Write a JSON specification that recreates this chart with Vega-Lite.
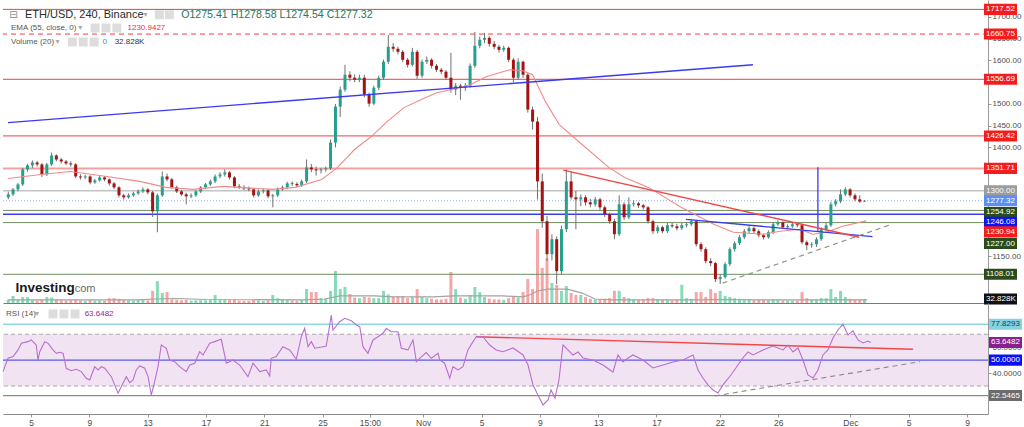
{
"$schema": "https://vega.github.io/schema/vega-lite/v6.json",
"padding": 0,
"spacing": 0,
"bounds": "flush",
"background": "white",
"config": {"view": {"stroke": null}, "font": "Liberation Sans", "axis": {"labelFont": "Liberation Sans"}},
"resolve": {"scale": {"stroke": "independent", "fill": "independent", "strokeDash": "independent", "color": "independent"}},
"datasets": {
"candles": [
{"d":2.1,"o":1285,"h":1298,"l":1280.5,"c":1292,"v":28},
{"d":2.43,"o":1292,"h":1306.5,"l":1288,"c":1303.4,"v":58},
{"d":2.77,"o":1303.4,"h":1318,"l":1299,"c":1314.9,"v":30},
{"d":3.1,"o":1314.9,"h":1353,"l":1311,"c":1349.3,"v":50},
{"d":3.43,"o":1349.3,"h":1362.5,"l":1344,"c":1358.5,"v":48},
{"d":3.77,"o":1358.5,"h":1370,"l":1352,"c":1365.3,"v":26},
{"d":4.1,"o":1365.3,"h":1369,"l":1356,"c":1360.8,"v":22},
{"d":4.43,"o":1360.8,"h":1364,"l":1332,"c":1337.8,"v":30},
{"d":4.77,"o":1337.8,"h":1364.5,"l":1334,"c":1360.8,"v":50},
{"d":5.1,"o":1360.8,"h":1388,"l":1357,"c":1381.4,"v":45},
{"d":5.43,"o":1381.4,"h":1384,"l":1368,"c":1372.2,"v":28},
{"d":5.77,"o":1372.2,"h":1376,"l":1363,"c":1367.6,"v":24},
{"d":6.1,"o":1367.6,"h":1371,"l":1359,"c":1363.1,"v":20},
{"d":6.43,"o":1363.1,"h":1368,"l":1356,"c":1360.8,"v":22},
{"d":6.77,"o":1360.8,"h":1364,"l":1329,"c":1333.2,"v":30},
{"d":7.1,"o":1333.2,"h":1338,"l":1326,"c":1330.9,"v":22},
{"d":7.43,"o":1330.9,"h":1337,"l":1327,"c":1333.2,"v":18},
{"d":7.77,"o":1333.2,"h":1336,"l":1315,"c":1319.5,"v":24},
{"d":8.1,"o":1319.5,"h":1328,"l":1316,"c":1324.1,"v":20},
{"d":8.43,"o":1324.1,"h":1335,"l":1321,"c":1330.9,"v":22},
{"d":8.77,"o":1330.9,"h":1334,"l":1322,"c":1326.4,"v":18},
{"d":9.1,"o":1326.4,"h":1329,"l":1312,"c":1317.2,"v":40},
{"d":9.43,"o":1317.2,"h":1320,"l":1304,"c":1308,"v":40},
{"d":9.77,"o":1308,"h":1311,"l":1285,"c":1289.7,"v":35},
{"d":10.1,"o":1289.7,"h":1293,"l":1280,"c":1285.1,"v":26},
{"d":10.43,"o":1285.1,"h":1294,"l":1282,"c":1289.7,"v":22},
{"d":10.77,"o":1289.7,"h":1298,"l":1286,"c":1294.2,"v":20},
{"d":11.1,"o":1294.2,"h":1303,"l":1291,"c":1298.8,"v":24},
{"d":11.43,"o":1298.8,"h":1308,"l":1295,"c":1303.4,"v":26},
{"d":11.77,"o":1303.4,"h":1306,"l":1292,"c":1296.5,"v":22},
{"d":12.1,"o":1296.5,"h":1300,"l":1240,"c":1253,"v":100},
{"d":12.43,"o":1253,"h":1294,"l":1204.8,"c":1289.7,"v":180},
{"d":12.77,"o":1289.7,"h":1344.7,"l":1286,"c":1333.2,"v":82},
{"d":13.1,"o":1333.2,"h":1340,"l":1322,"c":1326.4,"v":90},
{"d":13.43,"o":1326.4,"h":1330,"l":1305,"c":1308,"v":30},
{"d":13.77,"o":1308,"h":1312,"l":1295,"c":1298.8,"v":25},
{"d":14.1,"o":1298.8,"h":1302,"l":1288,"c":1292,"v":22},
{"d":14.43,"o":1292,"h":1296,"l":1269,"c":1287.4,"v":26},
{"d":14.77,"o":1287.4,"h":1294,"l":1283,"c":1289.7,"v":20},
{"d":15.1,"o":1289.7,"h":1302,"l":1286,"c":1298.8,"v":22},
{"d":15.43,"o":1298.8,"h":1311,"l":1295,"c":1308,"v":24},
{"d":15.77,"o":1308,"h":1318,"l":1304,"c":1314.9,"v":22},
{"d":16.1,"o":1314.9,"h":1326,"l":1311,"c":1321.8,"v":26},
{"d":16.43,"o":1321.8,"h":1338,"l":1318,"c":1333.2,"v":66},
{"d":16.77,"o":1333.2,"h":1343,"l":1329,"c":1337.8,"v":30},
{"d":17.1,"o":1337.8,"h":1349.3,"l":1333,"c":1342.4,"v":28},
{"d":17.43,"o":1342.4,"h":1346,"l":1326,"c":1330.9,"v":26},
{"d":17.77,"o":1330.9,"h":1334,"l":1306,"c":1310.3,"v":30},
{"d":18.1,"o":1310.3,"h":1316,"l":1304,"c":1308,"v":20},
{"d":18.43,"o":1308,"h":1313,"l":1301,"c":1305.7,"v":18},
{"d":18.77,"o":1305.7,"h":1310,"l":1299,"c":1303.4,"v":18},
{"d":19.1,"o":1303.4,"h":1306,"l":1285,"c":1289.7,"v":26},
{"d":19.43,"o":1289.7,"h":1303,"l":1286,"c":1298.8,"v":22},
{"d":19.77,"o":1298.8,"h":1305,"l":1294,"c":1301.1,"v":18},
{"d":20.1,"o":1301.1,"h":1304,"l":1283,"c":1287.4,"v":22},
{"d":20.43,"o":1287.4,"h":1293,"l":1262.1,"c":1289.7,"v":66},
{"d":20.77,"o":1289.7,"h":1308,"l":1286,"c":1303.4,"v":40},
{"d":21.1,"o":1303.4,"h":1312,"l":1300,"c":1308,"v":24},
{"d":21.43,"o":1308,"h":1321,"l":1304,"c":1317.2,"v":26},
{"d":21.77,"o":1317.2,"h":1322,"l":1311,"c":1316,"v":20},
{"d":22.1,"o":1316,"h":1320,"l":1308,"c":1312.6,"v":18},
{"d":22.43,"o":1312.6,"h":1326,"l":1309,"c":1321.8,"v":24},
{"d":22.77,"o":1321.8,"h":1372.2,"l":1318,"c":1353.9,"v":115},
{"d":23.1,"o":1353.9,"h":1362,"l":1343,"c":1349.3,"v":90},
{"d":23.43,"o":1349.3,"h":1356,"l":1335,"c":1347,"v":90},
{"d":23.77,"o":1347,"h":1353,"l":1340,"c":1349.3,"v":40},
{"d":24.1,"o":1349.3,"h":1356,"l":1344,"c":1351.6,"v":35},
{"d":24.43,"o":1351.6,"h":1418,"l":1348,"c":1411.2,"v":100},
{"d":24.77,"o":1411.2,"h":1500,"l":1400,"c":1493.8,"v":264},
{"d":25.1,"o":1493.8,"h":1540,"l":1470,"c":1532.8,"v":115},
{"d":25.43,"o":1532.8,"h":1590.1,"l":1528,"c":1567.2,"v":132},
{"d":25.77,"o":1567.2,"h":1575,"l":1552,"c":1560.3,"v":74},
{"d":26.1,"o":1560.3,"h":1568,"l":1550,"c":1555.7,"v":45},
{"d":26.43,"o":1555.7,"h":1567.2,"l":1550,"c":1560.3,"v":40},
{"d":26.77,"o":1560.3,"h":1567,"l":1515,"c":1521.3,"v":50},
{"d":27.1,"o":1521.3,"h":1526,"l":1493.8,"c":1500.7,"v":45},
{"d":27.43,"o":1500.7,"h":1542,"l":1497,"c":1537.4,"v":40},
{"d":27.77,"o":1537.4,"h":1565,"l":1532,"c":1560.3,"v":40},
{"d":28.1,"o":1560.3,"h":1602,"l":1555,"c":1597,"v":100},
{"d":28.43,"o":1597,"h":1658.9,"l":1592,"c":1631.4,"v":70},
{"d":28.77,"o":1631.4,"h":1640,"l":1620,"c":1626.8,"v":50},
{"d":29.1,"o":1626.8,"h":1632,"l":1614,"c":1619.9,"v":58},
{"d":29.43,"o":1619.9,"h":1624,"l":1596,"c":1601.6,"v":58},
{"d":29.77,"o":1601.6,"h":1606,"l":1584,"c":1590.1,"v":40},
{"d":30.1,"o":1590.1,"h":1629.1,"l":1586,"c":1619.9,"v":50},
{"d":30.43,"o":1619.9,"h":1624,"l":1558,"c":1564.9,"v":115},
{"d":30.77,"o":1564.9,"h":1602,"l":1560,"c":1597,"v":50},
{"d":31.1,"o":1597,"h":1609,"l":1592,"c":1601.6,"v":40},
{"d":31.43,"o":1601.6,"h":1605,"l":1582,"c":1587.8,"v":35},
{"d":31.77,"o":1587.8,"h":1592,"l":1573,"c":1578.6,"v":30},
{"d":32.1,"o":1578.6,"h":1583,"l":1568,"c":1574.1,"v":30},
{"d":32.43,"o":1574.1,"h":1578,"l":1555,"c":1560.3,"v":35},
{"d":32.77,"o":1560.3,"h":1617.6,"l":1526,"c":1532.8,"v":256},
{"d":33.1,"o":1532.8,"h":1548,"l":1520,"c":1542,"v":115},
{"d":33.43,"o":1542,"h":1546,"l":1509.8,"c":1537.4,"v":45},
{"d":33.77,"o":1537.4,"h":1548,"l":1530,"c":1542,"v":35},
{"d":34.1,"o":1542,"h":1593,"l":1538,"c":1587.8,"v":66},
{"d":34.43,"o":1587.8,"h":1665.8,"l":1583,"c":1633.7,"v":132},
{"d":34.77,"o":1633.7,"h":1655,"l":1628,"c":1647.5,"v":90},
{"d":35.1,"o":1647.5,"h":1663.5,"l":1640,"c":1652,"v":50},
{"d":35.43,"o":1652,"h":1656,"l":1632,"c":1638.3,"v":35},
{"d":35.77,"o":1638.3,"h":1645,"l":1626,"c":1631.4,"v":30},
{"d":36.1,"o":1631.4,"h":1636,"l":1618,"c":1624.5,"v":30},
{"d":36.43,"o":1624.5,"h":1634,"l":1620,"c":1629.1,"v":26},
{"d":36.77,"o":1629.1,"h":1632,"l":1596,"c":1601.6,"v":40},
{"d":37.1,"o":1601.6,"h":1606,"l":1550,"c":1560.3,"v":50},
{"d":37.43,"o":1560.3,"h":1605,"l":1555,"c":1597,"v":45},
{"d":37.77,"o":1597,"h":1600,"l":1560,"c":1567.2,"v":90},
{"d":38.1,"o":1567.2,"h":1572,"l":1480,"c":1486.9,"v":198},
{"d":38.43,"o":1486.9,"h":1494,"l":1441,"c":1459.4,"v":115},
{"d":38.77,"o":1459.4,"h":1470,"l":1280,"c":1321.8,"v":610},
{"d":39.1,"o":1321.8,"h":1340,"l":1215,"c":1230,"v":290},
{"d":39.43,"o":1230,"h":1242,"l":1138.3,"c":1154.3,"v":370},
{"d":39.77,"o":1154.3,"h":1200,"l":1140,"c":1188.7,"v":165},
{"d":40.1,"o":1188.7,"h":1195,"l":1085.5,"c":1115.3,"v":150},
{"d":40.43,"o":1115.3,"h":1220,"l":1108,"c":1211.7,"v":100},
{"d":40.77,"o":1211.7,"h":1349.3,"l":1205,"c":1321.8,"v":140},
{"d":41.1,"o":1321.8,"h":1344.7,"l":1280,"c":1285.1,"v":82},
{"d":41.43,"o":1285.1,"h":1300,"l":1211.7,"c":1280.5,"v":66},
{"d":41.77,"o":1280.5,"h":1292,"l":1265,"c":1285.1,"v":66},
{"d":42.1,"o":1285.1,"h":1290,"l":1266,"c":1273.6,"v":50},
{"d":42.43,"o":1273.6,"h":1282,"l":1262,"c":1269,"v":35},
{"d":42.77,"o":1269,"h":1286,"l":1264,"c":1280.5,"v":30},
{"d":43.1,"o":1280.5,"h":1284,"l":1256,"c":1262.1,"v":30},
{"d":43.43,"o":1262.1,"h":1266,"l":1240,"c":1246.1,"v":35},
{"d":43.77,"o":1246.1,"h":1250,"l":1224,"c":1230,"v":40},
{"d":44.1,"o":1230,"h":1236,"l":1188.7,"c":1200.2,"v":100},
{"d":44.43,"o":1200.2,"h":1289.7,"l":1196,"c":1269,"v":100},
{"d":44.77,"o":1269,"h":1274,"l":1233,"c":1239.2,"v":50},
{"d":45.1,"o":1239.2,"h":1285.1,"l":1235,"c":1269,"v":40},
{"d":45.43,"o":1269,"h":1278,"l":1264,"c":1271.3,"v":30},
{"d":45.77,"o":1271.3,"h":1275,"l":1261,"c":1266.7,"v":26},
{"d":46.1,"o":1266.7,"h":1270,"l":1257,"c":1262.1,"v":26},
{"d":46.43,"o":1262.1,"h":1265,"l":1225,"c":1230,"v":40},
{"d":46.77,"o":1230,"h":1234,"l":1201,"c":1207.1,"v":40},
{"d":47.1,"o":1207.1,"h":1221,"l":1202,"c":1216.3,"v":30},
{"d":47.43,"o":1216.3,"h":1220,"l":1202,"c":1207.1,"v":26},
{"d":47.77,"o":1207.1,"h":1226,"l":1203,"c":1220.9,"v":30},
{"d":48.1,"o":1220.9,"h":1226,"l":1215,"c":1218.5,"v":22},
{"d":48.43,"o":1218.5,"h":1224,"l":1209,"c":1214,"v":26},
{"d":48.77,"o":1214,"h":1226,"l":1210,"c":1220.9,"v":150},
{"d":49.1,"o":1220.9,"h":1228,"l":1216,"c":1223.1,"v":40},
{"d":49.43,"o":1223.1,"h":1234.6,"l":1219,"c":1230,"v":35},
{"d":49.77,"o":1230,"h":1233,"l":1172,"c":1177.3,"v":90},
{"d":50.1,"o":1177.3,"h":1182,"l":1160,"c":1165.8,"v":90},
{"d":50.43,"o":1165.8,"h":1170,"l":1133,"c":1138.3,"v":50},
{"d":50.77,"o":1138.3,"h":1145,"l":1127,"c":1133.7,"v":115},
{"d":51.1,"o":1133.7,"h":1137,"l":1090.1,"c":1097,"v":82},
{"d":51.43,"o":1097,"h":1108,"l":1085.5,"c":1101.6,"v":100},
{"d":51.77,"o":1101.6,"h":1136,"l":1098,"c":1131.4,"v":58},
{"d":52.1,"o":1131.4,"h":1170,"l":1127,"c":1165.8,"v":50},
{"d":52.43,"o":1165.8,"h":1184,"l":1160,"c":1179.6,"v":40},
{"d":52.77,"o":1179.6,"h":1198,"l":1175,"c":1193.3,"v":35},
{"d":53.1,"o":1193.3,"h":1212,"l":1189,"c":1207.1,"v":30},
{"d":53.43,"o":1207.1,"h":1220.9,"l":1202,"c":1214,"v":30},
{"d":53.77,"o":1214,"h":1218,"l":1202,"c":1207.1,"v":24},
{"d":54.1,"o":1207.1,"h":1211,"l":1193,"c":1197.9,"v":26},
{"d":54.43,"o":1197.9,"h":1202,"l":1188,"c":1193.3,"v":24},
{"d":54.77,"o":1193.3,"h":1209,"l":1190,"c":1204.8,"v":24},
{"d":55.1,"o":1204.8,"h":1228,"l":1201,"c":1223.1,"v":30},
{"d":55.43,"o":1223.1,"h":1232.3,"l":1219,"c":1227.7,"v":26},
{"d":55.77,"o":1227.7,"h":1230,"l":1212,"c":1216.3,"v":22},
{"d":56.1,"o":1216.3,"h":1223,"l":1212,"c":1218.6,"v":20},
{"d":56.43,"o":1218.6,"h":1227,"l":1215,"c":1223.1,"v":20},
{"d":56.77,"o":1223.1,"h":1226,"l":1216,"c":1220.9,"v":20},
{"d":57.1,"o":1220.9,"h":1224,"l":1177,"c":1181.9,"v":90},
{"d":57.43,"o":1181.9,"h":1186,"l":1163.5,"c":1175,"v":40},
{"d":57.77,"o":1175,"h":1182,"l":1169,"c":1177,"v":30},
{"d":58.1,"o":1177,"h":1193,"l":1171,"c":1188.7,"v":30},
{"d":58.43,"o":1188.7,"h":1216,"l":1185,"c":1211.7,"v":40},
{"d":58.77,"o":1211.7,"h":1226,"l":1207,"c":1220.9,"v":40},
{"d":59.1,"o":1220.9,"h":1275,"l":1217,"c":1269,"v":115},
{"d":59.43,"o":1269,"h":1281,"l":1264,"c":1275.9,"v":50},
{"d":59.77,"o":1275.9,"h":1303.4,"l":1272,"c":1292,"v":100},
{"d":60.1,"o":1292,"h":1308,"l":1288,"c":1303.4,"v":50},
{"d":60.43,"o":1303.4,"h":1306,"l":1285,"c":1289.7,"v":35},
{"d":60.77,"o":1289.7,"h":1294,"l":1276,"c":1280.5,"v":30},
{"d":61.1,"o":1280.5,"h":1290,"l":1272,"c":1275.4,"v":30},
{"d":61.43,"o":1275.41,"h":1278.58,"l":1274.54,"c":1277.32,"v":32.828}
],
"ema": [
{"d":2.08,"p":1328.6},{"d":4.34,"p":1337.8},{"d":6.4,"p":1344.7},{"d":8.94,"p":1333.2},{"d":11.2,"p":1321.8},{"d":13.05,"p":1308},{"d":14.91,"p":1303.4},{"d":16.96,"p":1310.3},{"d":18.06,"p":1308},{"d":20.39,"p":1303.4},{"d":21.97,"p":1308},{"d":23.82,"p":1326.3},{"d":24.92,"p":1353.9},{"d":26.09,"p":1395.1},{"d":27.25,"p":1425},{"d":28.35,"p":1459.4},{"d":29.51,"p":1491.5},{"d":30.68,"p":1509.8},{"d":31.78,"p":1525.9},{"d":32.74,"p":1532.8},{"d":34.11,"p":1544.2},{"d":35.21,"p":1562.6},{"d":36.37,"p":1574.1},{"d":36.85,"p":1578.6},{"d":37.75,"p":1576.4},{"d":38.43,"p":1567.2},{"d":39.32,"p":1505.3},{"d":40.28,"p":1452.5},{"d":41.86,"p":1406.6},{"d":43.71,"p":1353.9},{"d":44.81,"p":1330.9},{"d":46.46,"p":1308},{"d":48.72,"p":1262.1},{"d":50.98,"p":1223.1},{"d":52.35,"p":1204.8},{"d":54.41,"p":1200.2},{"d":55.58,"p":1207.1},{"d":56.95,"p":1211.7},{"d":57.84,"p":1200.2},{"d":58.8,"p":1204.8},{"d":59.9,"p":1218.5},{"d":61.55,"p":1230.94}
],
"vma": [
{"d":2.08,"v":25},{"d":11,"v":25},{"d":12.37,"v":33},{"d":13.74,"v":37},{"d":15.8,"v":29},{"d":22.66,"v":25},{"d":24.03,"v":33},{"d":25.06,"v":58},{"d":27.46,"v":58},{"d":28.83,"v":50},{"d":31.57,"v":50},{"d":32.94,"v":58},{"d":36.37,"v":58},{"d":37.75,"v":50},{"d":38.23,"v":66},{"d":38.77,"v":99},{"d":39.46,"v":115},{"d":40.83,"v":115},{"d":41.86,"v":82},{"d":42.75,"v":33},{"d":43.92,"v":25},{"d":50.09,"v":25},{"d":51.46,"v":29},{"d":54.21,"v":25},{"d":61.61,"v":25}
],
"rsi": [
{"d":2.08,"r":41.1},{"d":2.42,"r":51.4},{"d":2.77,"r":52.7},{"d":3.11,"r":57.9},{"d":3.34,"r":63},{"d":3.79,"r":64.3},{"d":4.02,"r":65.6},{"d":4.36,"r":61.7},{"d":4.48,"r":50.1},{"d":4.6,"r":56.5},{"d":4.94,"r":64.3},{"d":5.17,"r":63},{"d":5.51,"r":57.9},{"d":5.74,"r":55.3},{"d":5.97,"r":56.1},{"d":6.2,"r":55.3},{"d":6.42,"r":43.7},{"d":6.76,"r":41.8},{"d":7.11,"r":42.9},{"d":7.45,"r":41.1},{"d":7.79,"r":36},{"d":8.03,"r":34.6},{"d":8.37,"r":44.9},{"d":8.6,"r":42.4},{"d":8.82,"r":44.9},{"d":9.06,"r":43.7},{"d":9.51,"r":37.2},{"d":9.97,"r":24.4},{"d":10.31,"r":32.1},{"d":10.54,"r":37.2},{"d":10.77,"r":32.6},{"d":11,"r":34.6},{"d":11.22,"r":42.4},{"d":11.46,"r":45.5},{"d":11.8,"r":43.7},{"d":12.03,"r":37.2},{"d":12.25,"r":23},{"d":12.48,"r":33.3},{"d":12.71,"r":44.9},{"d":12.94,"r":61.7},{"d":13.28,"r":59.2},{"d":13.51,"r":50.1},{"d":13.86,"r":48.8},{"d":14.2,"r":44.9},{"d":14.65,"r":41.1},{"d":14.89,"r":46.2},{"d":15.23,"r":47.6},{"d":15.57,"r":56.5},{"d":15.8,"r":54},{"d":16.26,"r":63},{"d":16.6,"r":64.3},{"d":17.05,"r":66.1},{"d":17.4,"r":47.6},{"d":17.85,"r":50.1},{"d":18.31,"r":46.2},{"d":18.88,"r":37.2},{"d":19.23,"r":47.6},{"d":19.69,"r":41.1},{"d":20.14,"r":42.4},{"d":20.37,"r":37.7},{"d":20.48,"r":51.4},{"d":20.82,"r":52.7},{"d":21.28,"r":60.4},{"d":21.74,"r":57.9},{"d":22.2,"r":50.7},{"d":22.54,"r":68.1},{"d":22.77,"r":74.6},{"d":23,"r":60.4},{"d":23.23,"r":64.3},{"d":23.46,"r":59.2},{"d":24.03,"r":60.4},{"d":24.25,"r":60.9},{"d":24.6,"r":84.9},{"d":24.71,"r":73.3},{"d":25.17,"r":79.7},{"d":25.52,"r":82.4},{"d":25.97,"r":80.5},{"d":26.31,"r":77.2},{"d":26.55,"r":75.9},{"d":26.77,"r":60.4},{"d":27.11,"r":55.3},{"d":27.46,"r":65.6},{"d":27.8,"r":68.1},{"d":28.14,"r":70.8},{"d":28.37,"r":74.6},{"d":28.71,"r":72},{"d":29.17,"r":72},{"d":29.4,"r":59.2},{"d":29.86,"r":57.9},{"d":30.2,"r":65.6},{"d":30.43,"r":48.8},{"d":30.66,"r":51.4},{"d":31.11,"r":55.8},{"d":31.46,"r":51.4},{"d":31.92,"r":55.3},{"d":32.03,"r":50.1},{"d":32.37,"r":47.6},{"d":32.72,"r":36},{"d":32.94,"r":44.9},{"d":33.29,"r":42.4},{"d":33.63,"r":44.9},{"d":33.97,"r":57.9},{"d":34.32,"r":64.3},{"d":34.54,"r":68.1},{"d":35,"r":68.1},{"d":35.46,"r":61.7},{"d":35.91,"r":57.9},{"d":36.37,"r":56.5},{"d":37.06,"r":59.4},{"d":37.75,"r":54},{"d":38.09,"r":46.2},{"d":38.43,"r":30.8},{"d":38.77,"r":23},{"d":39.12,"r":15.3},{"d":39.46,"r":19.2},{"d":39.67,"r":26.9},{"d":39.94,"r":20.7},{"d":40.21,"r":34.6},{"d":40.49,"r":61.7},{"d":40.83,"r":57.9},{"d":41.17,"r":54},{"d":41.52,"r":56.3},{"d":41.86,"r":51.7},{"d":42.55,"r":50.1},{"d":43.23,"r":46.2},{"d":43.92,"r":40.8},{"d":44.26,"r":54},{"d":44.6,"r":48.6},{"d":44.95,"r":51.7},{"d":45.29,"r":54},{"d":45.98,"r":50.1},{"d":46.66,"r":43.9},{"d":47.35,"r":46.2},{"d":48.03,"r":48.6},{"d":48.72,"r":50.1},{"d":49.41,"r":54},{"d":49.75,"r":42.4},{"d":50.09,"r":36.2},{"d":50.43,"r":30.8},{"d":50.78,"r":26.9},{"d":51.12,"r":24.6},{"d":51.46,"r":30.8},{"d":52.01,"r":38.5},{"d":52.49,"r":46.2},{"d":52.83,"r":51.7},{"d":53.18,"r":56.3},{"d":53.52,"r":54},{"d":54.21,"r":57.9},{"d":54.89,"r":60.9},{"d":55.58,"r":57.9},{"d":55.92,"r":61.7},{"d":56.26,"r":56.3},{"d":56.61,"r":59.4},{"d":56.95,"r":50.1},{"d":57.29,"r":38.5},{"d":57.64,"r":36.2},{"d":57.98,"r":42.4},{"d":58.32,"r":54},{"d":58.66,"r":57.9},{"d":59.01,"r":67.1},{"d":59.35,"r":73.3},{"d":59.69,"r":77.8},{"d":60.04,"r":69.5},{"d":60.38,"r":72.6},{"d":60.72,"r":65.6},{"d":61.07,"r":63.3},{"d":61.41,"r":64.8},{"d":61.61,"r":63.6482}
],
"levels": [
{"p":1717.52,"k":"res"},{"p":1660.75,"k":"resd"},{"p":1556.69,"k":"res"},{"p":1426.42,"k":"res"},{"p":1351.71,"k":"res2"},{"p":1300,"k":"pivot"},{"p":1277.32,"k":"last"},{"p":1254.92,"k":"sup"},{"p":1246.08,"k":"blue"},{"p":1230.94,"k":"ema"},{"p":1227,"k":"sup"},{"p":1108.01,"k":"sup"}
],
"trend": [
{"id":"b1","d":2.08,"p":1457.1},{"id":"b1","d":53.7,"p":1590.1},
{"id":"b2","d":49.06,"p":1234.6},{"id":"b2","d":61.98,"p":1194.9},
{"id":"b3","d":58.2,"p":1354.6},{"id":"b3","d":58.2,"p":1207.8},
{"id":"r1","d":40.56,"p":1347.7},{"id":"r1","d":61.06,"p":1193.3},
{"id":"g1","d":51.6,"p":1087.8},{"id":"g1","d":63.12,"p":1220.9}
],
"rsitrend": [
{"id":"r","d":34.52,"r":68.1},{"id":"r","d":64.49,"r":58.4},
{"id":"g","d":50.91,"r":22.3},{"id":"g","d":64.97,"r":48.8}
],
"rsilevels": [
{"v":77.8293,"k":"hi"},{"v":70,"k":"ob"},{"v":50,"k":"mid"},{"v":30,"k":"os"},{"v":22.5465,"k":"lo"}
],
"rsilabels": [
{"v":77.8293,"k":"hi"},{"v":63.6482,"k":"cur"},{"v":50,"k":"mid"},{"v":22.5465,"k":"lo"}
]
},
"vconcat": [
{
"width": 985, "height": 303,
"resolve": {"scale": {"y": "independent"}, "axis": {"y": "independent"}},
"layer": [
{
"layer": [
{"data": {"name": "candles"}, "mark": {"type": "bar", "size": 3, "clip": true},
 "encoding": {
  "x": {"field": "d", "type": "quantitative", "scale": {"domain": [2.08, 69.64], "nice": false, "zero": false}, "axis": {"orient": "bottom", "labels": false, "ticks": false, "domain": true, "domainColor": "#7a7a7a", "grid": false, "title": null}},
  "y": {"field": "v", "type": "quantitative", "scale": {"domain": [0, 2500], "nice": false}, "axis": null},
  "color": {"condition": {"test": "datum.c >= datum.o", "value": "#86dcb8"}, "value": "#f6a6a6"}}},
{"data": {"name": "vma"}, "mark": {"type": "line", "color": "#a3a3a3", "strokeWidth": 1.2},
 "encoding": {"x": {"field": "d", "type": "quantitative"}, "y": {"field": "v", "type": "quantitative"}}},
{"data": {"values": [{"v": 32.828}]}, "mark": {"type": "point", "shape": "M0.125,-0.69H4.25V0.69H0.125Z", "size": 256, "filled": true, "opacity": 1, "strokeWidth": 0, "color": "#111111"},
 "encoding": {"x": {"datum": 69.64, "type": "quantitative"}, "y": {"field": "v", "type": "quantitative"}}},
{"data": {"values": [{"v": 32.828}]}, "mark": {"type": "text", "align": "left", "baseline": "middle", "dx": 3, "fontSize": 8, "color": "white", "text": "32.828K"},
 "encoding": {"x": {"datum": 69.64, "type": "quantitative"}, "y": {"field": "v", "type": "quantitative"}}}
]
},
{
"data": {"values": [{}]},
"layer": [
{"data": {"name": "levels"}, "transform": [{"filter": "datum.k != 'ema'"}], "mark": {"type": "rule"},
 "encoding": {
  "y": {"field": "p", "type": "quantitative", "scale": {"domain": [1042, 1739.1], "nice": false, "zero": false},
        "axis": {"orient": "right", "values": [1150,1400,1450,1500,1600,1650,1700], "format": ".2f", "labelFontSize": 8, "labelColor": "#4d4d4d", "tickSize": 3, "tickColor": "#9a9a9a", "domainColor": "#9a9a9a", "labelPadding": 1, "grid": false, "title": null, "labelOverlap": false, "labelFlush": false}},
  "stroke": {"field": "k", "type": "nominal", "scale": {"domain": ["res","resd","res2","pivot","last","sup","blue"], "range": ["#ec4040","#ec4040","#f5a0a0","#a6a6a6","#92b0f2","#6f8f60","#3c3cf5"]}, "legend": null},
  "strokeDash": {"field": "k", "type": "nominal", "scale": {"domain": ["res","resd","res2","pivot","last","sup","blue"], "range": [[1,0],[5,4],[1,0],[1,0],[1,2],[1,0],[1,0]]}, "legend": null},
  "strokeWidth": {"condition": [{"test": "datum.k == 'res2'", "value": 2}, {"test": "datum.k == 'blue'", "value": 1.5}], "value": 1}}},
{"data": {"name": "candles"}, "mark": {"type": "rule", "color": "#707070", "strokeWidth": 1, "clip": true},
 "encoding": {
  "x": {"field": "d", "type": "quantitative", "scale": {"domain": [2.08, 69.64], "nice": false, "zero": false}, "axis": {"orient": "bottom", "labels": false, "ticks": false, "domain": true, "domainColor": "#7a7a7a", "grid": false, "title": null}},
  "y": {"field": "l", "type": "quantitative", "scale": {"domain": [1042, 1739.1], "nice": false, "zero": false}},
  "y2": {"field": "h"}}},
{"data": {"name": "candles"}, "mark": {"type": "bar", "size": 3, "clip": true},
 "encoding": {
  "x": {"field": "d", "type": "quantitative"},
  "y": {"field": "o", "type": "quantitative", "scale": {"domain": [1042, 1739.1], "nice": false, "zero": false}},
  "y2": {"field": "c"},
  "color": {"condition": {"test": "datum.c >= datum.o", "value": "#26a08c"}, "value": "#a41212"}}},
{"data": {"name": "ema"}, "mark": {"type": "line", "color": "#f28a8a", "strokeWidth": 1.1},
 "encoding": {"x": {"field": "d", "type": "quantitative"}, "y": {"field": "p", "type": "quantitative"}}},
{"data": {"name": "trend"}, "transform": [{"filter": "datum.id == 'b1' || datum.id == 'b2' || datum.id == 'b3'"}], "mark": {"type": "line", "color": "#3a3af0", "strokeWidth": 1.3, "clip": true},
 "encoding": {"x": {"field": "d", "type": "quantitative"}, "y": {"field": "p", "type": "quantitative"}, "detail": {"field": "id"}}},
{"data": {"name": "trend"}, "transform": [{"filter": "datum.id == 'r1'"}], "mark": {"type": "line", "color": "#f04848", "strokeWidth": 1.5},
 "encoding": {"x": {"field": "d", "type": "quantitative"}, "y": {"field": "p", "type": "quantitative"}}},
{"data": {"name": "trend"}, "transform": [{"filter": "datum.id == 'g1'"}], "mark": {"type": "line", "color": "#8a9a80", "strokeWidth": 1.2, "strokeDash": [5, 4]},
 "encoding": {"x": {"field": "d", "type": "quantitative"}, "y": {"field": "p", "type": "quantitative"}}},
{"data": {"name": "levels"}, "transform": [{"filter": "datum.p != 1254.92 && datum.p != 1246.08 && datum.p != 1230.94 && datum.p != 1227"}],
 "layer": [
  {"mark": {"type": "point", "shape": "M0.125,-0.69H4.25V0.69H0.125Z", "size": 256, "filled": true, "opacity": 1, "strokeWidth": 0},
   "encoding": {"x": {"datum": 69.64, "type": "quantitative"}, "y": {"field": "p", "type": "quantitative"},
    "fill": {"field": "k", "type": "nominal", "scale": {"domain": ["res","resd","res2","pivot","last","sup","blue","ema"], "range": ["#f41c1c","#f41c1c","#f41c1c","#9c9c9c","#5d8fef","#2c4b1d","#0b14f5","#f41c1c"]}, "legend": null}}},
  {"mark": {"type": "text", "align": "left", "baseline": "middle", "dx": 3, "fontSize": 8, "color": "white"},
   "encoding": {"x": {"datum": 69.64, "type": "quantitative"}, "y": {"field": "p", "type": "quantitative"}, "text": {"field": "p", "type": "quantitative", "format": ".2f"}}}
 ]},
{"data": {"name": "levels"}, "transform": [{"filter": "datum.p == 1254.92"}],
 "layer": [
  {"mark": {"type": "point", "shape": "M0.125,-0.69H4.25V0.69H0.125Z", "size": 256, "filled": true, "opacity": 1, "strokeWidth": 0, "yOffset": 2},
   "encoding": {"x": {"datum": 69.64, "type": "quantitative"}, "y": {"field": "p", "type": "quantitative"},
    "fill": {"field": "k", "type": "nominal", "scale": {"domain": ["res","resd","res2","pivot","last","sup","blue","ema"], "range": ["#f41c1c","#f41c1c","#f41c1c","#9c9c9c","#5d8fef","#2c4b1d","#0b14f5","#f41c1c"]}, "legend": null}}},
  {"mark": {"type": "text", "align": "left", "baseline": "middle", "dx": 3, "yOffset": 2, "fontSize": 8, "color": "white"},
   "encoding": {"x": {"datum": 69.64, "type": "quantitative"}, "y": {"field": "p", "type": "quantitative"}, "text": {"field": "p", "type": "quantitative", "format": ".2f"}}}
 ]},
{"data": {"name": "levels"}, "transform": [{"filter": "datum.p == 1246.08"}],
 "layer": [
  {"mark": {"type": "point", "shape": "M0.125,-0.69H4.25V0.69H0.125Z", "size": 256, "filled": true, "opacity": 1, "strokeWidth": 0, "yOffset": 8},
   "encoding": {"x": {"datum": 69.64, "type": "quantitative"}, "y": {"field": "p", "type": "quantitative"},
    "fill": {"field": "k", "type": "nominal", "scale": {"domain": ["res","resd","res2","pivot","last","sup","blue","ema"], "range": ["#f41c1c","#f41c1c","#f41c1c","#9c9c9c","#5d8fef","#2c4b1d","#0b14f5","#f41c1c"]}, "legend": null}}},
  {"mark": {"type": "text", "align": "left", "baseline": "middle", "dx": 3, "yOffset": 8, "fontSize": 8, "color": "white"},
   "encoding": {"x": {"datum": 69.64, "type": "quantitative"}, "y": {"field": "p", "type": "quantitative"}, "text": {"field": "p", "type": "quantitative", "format": ".2f"}}}
 ]},
{"data": {"name": "levels"}, "transform": [{"filter": "datum.p == 1230.94"}],
 "layer": [
  {"mark": {"type": "point", "shape": "M0.125,-0.69H4.25V0.69H0.125Z", "size": 256, "filled": true, "opacity": 1, "strokeWidth": 0, "yOffset": 11},
   "encoding": {"x": {"datum": 69.64, "type": "quantitative"}, "y": {"field": "p", "type": "quantitative"},
    "fill": {"field": "k", "type": "nominal", "scale": {"domain": ["res","resd","res2","pivot","last","sup","blue","ema"], "range": ["#f41c1c","#f41c1c","#f41c1c","#9c9c9c","#5d8fef","#2c4b1d","#0b14f5","#f41c1c"]}, "legend": null}}},
  {"mark": {"type": "text", "align": "left", "baseline": "middle", "dx": 3, "yOffset": 11, "fontSize": 8, "color": "white"},
   "encoding": {"x": {"datum": 69.64, "type": "quantitative"}, "y": {"field": "p", "type": "quantitative"}, "text": {"field": "p", "type": "quantitative", "format": ".2f"}}}
 ]},
{"data": {"name": "levels"}, "transform": [{"filter": "datum.p == 1227"}],
 "layer": [
  {"mark": {"type": "point", "shape": "M0.125,-0.69H4.25V0.69H0.125Z", "size": 256, "filled": true, "opacity": 1, "strokeWidth": 0, "yOffset": 21},
   "encoding": {"x": {"datum": 69.64, "type": "quantitative"}, "y": {"field": "p", "type": "quantitative"},
    "fill": {"field": "k", "type": "nominal", "scale": {"domain": ["res","resd","res2","pivot","last","sup","blue","ema"], "range": ["#f41c1c","#f41c1c","#f41c1c","#9c9c9c","#5d8fef","#2c4b1d","#0b14f5","#f41c1c"]}, "legend": null}}},
  {"mark": {"type": "text", "align": "left", "baseline": "middle", "dx": 3, "yOffset": 21, "fontSize": 8, "color": "white"},
   "encoding": {"x": {"datum": 69.64, "type": "quantitative"}, "y": {"field": "p", "type": "quantitative"}, "text": {"field": "p", "type": "quantitative", "format": ".2f"}}}
 ]},
{"data": {"values": [{"d": 12.57, "p": 1705.3}, {"d": 13.26, "p": 1705.3}, {"d": 8.12, "p": 1674.7}, {"d": 8.87, "p": 1674.7}, {"d": 9.62, "p": 1674.7}, {"d": 6.54, "p": 1642.5}, {"d": 7.29, "p": 1642.5}, {"d": 8.05, "p": 1642.5}]},
 "mark": {"type": "point", "shape": "square", "size": 80, "filled": true, "opacity": 1, "color": "#dddddd"},
 "encoding": {"x": {"field": "d", "type": "quantitative"}, "y": {"field": "p", "type": "quantitative"}}},
{"mark": {"type": "text", "align": "center", "baseline": "middle", "font": "DejaVu Sans", "fontSize": 10, "color": "#888888", "text": "⊟"},
 "encoding": {"x": {"datum": 2.46, "type": "quantitative"}, "y": {"datum": 1705.3, "type": "quantitative"}}},
{"mark": {"type": "text", "align": "left", "baseline": "middle", "fontSize": 11, "color": "#2b2b2b", "text": "ETH/USD, 240, Binance"},
 "encoding": {"x": {"datum": 3.25, "type": "quantitative"}, "y": {"datum": 1705.3, "type": "quantitative"}}},
{"mark": {"type": "text", "align": "center", "baseline": "middle", "font": "DejaVu Sans", "fontSize": 8, "color": "#aaaaaa", "text": "▾"},
 "encoding": {"x": {"datum": 11.61, "type": "quantitative"}, "y": {"datum": 1705.3, "type": "quantitative"}}},
{"mark": {"type": "text", "align": "left", "baseline": "middle", "fontSize": 10.6, "color": "#2a7560", "text": "O1275.41  H1278.58  L1274.54  C1277.32"},
 "encoding": {"x": {"datum": 14.08, "type": "quantitative"}, "y": {"datum": 1705.3, "type": "quantitative"}}},
{"mark": {"type": "text", "align": "left", "baseline": "middle", "fontSize": 8, "color": "#555555", "text": "EMA (55, close, 0)"},
 "encoding": {"x": {"datum": 2.29, "type": "quantitative"}, "y": {"datum": 1674.7, "type": "quantitative"}}},
{"mark": {"type": "text", "align": "center", "baseline": "middle", "font": "DejaVu Sans", "fontSize": 8, "color": "#aaaaaa", "text": "▾"},
 "encoding": {"x": {"datum": 7.09, "type": "quantitative"}, "y": {"datum": 1674.7, "type": "quantitative"}}},
{"mark": {"type": "text", "align": "left", "baseline": "middle", "fontSize": 8, "color": "#f03030", "text": "1230.9427"},
 "encoding": {"x": {"datum": 10.36, "type": "quantitative"}, "y": {"datum": 1674.7, "type": "quantitative"}}},
{"mark": {"type": "text", "align": "left", "baseline": "middle", "fontSize": 8, "color": "#555555", "text": "Volume (20)"},
 "encoding": {"x": {"datum": 2.29, "type": "quantitative"}, "y": {"datum": 1642.5, "type": "quantitative"}}},
{"mark": {"type": "text", "align": "center", "baseline": "middle", "font": "DejaVu Sans", "fontSize": 8, "color": "#aaaaaa", "text": "▾"},
 "encoding": {"x": {"datum": 5.51, "type": "quantitative"}, "y": {"datum": 1642.5, "type": "quantitative"}}},
{"mark": {"type": "text", "align": "left", "baseline": "middle", "fontSize": 8, "color": "#26a69a", "text": "0"},
 "encoding": {"x": {"datum": 8.63, "type": "quantitative"}, "y": {"datum": 1642.5, "type": "quantitative"}}},
{"mark": {"type": "text", "align": "left", "baseline": "middle", "fontSize": 8, "color": "#333333", "text": "32.828K"},
 "encoding": {"x": {"datum": 9.47, "type": "quantitative"}, "y": {"datum": 1642.5, "type": "quantitative"}}},
{"mark": {"type": "text", "align": "left", "baseline": "alphabetic", "fontSize": 13.5, "fontWeight": "bold", "color": "#1a1a1a", "text": "Investing"},
 "encoding": {"x": {"datum": 2.6, "type": "quantitative"}, "y": {"datum": 1068.4, "type": "quantitative"}}},
{"mark": {"type": "text", "align": "left", "baseline": "alphabetic", "fontSize": 11, "color": "#6a6a6a", "text": "com"},
 "encoding": {"x": {"datum": 6.7, "type": "quantitative"}, "y": {"datum": 1068.4, "type": "quantitative"}}}
]
}
]
},
{
"width": 985, "height": 111,
"data": {"values": [{}]},
"layer": [
{"data": {"values": [{"a": 70, "b": 30}]}, "mark": {"type": "rect", "color": "#f2e3f3"},
 "encoding": {"x": {"datum": 2.08, "type": "quantitative"}, "x2": {"datum": 69.64},
  "y": {"field": "a", "type": "quantitative", "scale": {"domain": [8.3, 94.2], "nice": false, "zero": false},
        "axis": {"orient": "right", "values": [40, 60], "format": ".4f", "labelFontSize": 8, "labelColor": "#4d4d4d", "tickSize": 3, "tickColor": "#9a9a9a", "domainColor": "#9a9a9a", "labelPadding": 1, "grid": false, "title": null, "labelOverlap": false, "labelFlush": false}},
  "y2": {"field": "b"}}},
{"data": {"name": "rsilevels"}, "mark": {"type": "rule"},
 "encoding": {"y": {"field": "v", "type": "quantitative"},
  "stroke": {"field": "k", "type": "nominal", "scale": {"domain": ["hi","ob","mid","os","lo"], "range": ["#8fd6ea","#a8a8a8","#5b5bf2","#a8a8a8","#8a8a8a"]}, "legend": null},
  "strokeDash": {"field": "k", "type": "nominal", "scale": {"domain": ["hi","ob","mid","os","lo"], "range": [[1,0],[4,3],[1,0],[4,3],[1,0]]}, "legend": null},
  "strokeWidth": {"condition": [{"test": "datum.k == 'hi'", "value": 1.5}, {"test": "datum.k == 'mid'", "value": 1.3}], "value": 1.1}}},
{"data": {"name": "rsitrend"}, "transform": [{"filter": "datum.id == 'r'"}], "mark": {"type": "line", "color": "#f04848", "strokeWidth": 1.4},
 "encoding": {"x": {"field": "d", "type": "quantitative"}, "y": {"field": "r", "type": "quantitative"}}},
{"data": {"name": "rsitrend"}, "transform": [{"filter": "datum.id == 'g'"}], "mark": {"type": "line", "color": "#8a8a8a", "strokeWidth": 1.1, "strokeDash": [5, 4]},
 "encoding": {"x": {"field": "d", "type": "quantitative"}, "y": {"field": "r", "type": "quantitative"}}},
{"data": {"name": "rsi"}, "mark": {"type": "line", "color": "#b86fcf", "strokeWidth": 1.1},
 "encoding": {
  "x": {"field": "d", "type": "quantitative", "scale": {"domain": [2.08, 69.64], "nice": false, "zero": false},
        "axis": {"orient": "bottom", "values": [4,8,12,16,20,24,27.25,30.9,34.9,38.9,42.9,46.9,51.25,55.25,60.2,64.2,68.2],
                 "labelExpr": "['5','9','13','17','21','25','15:00','Nov','5','9','13','17','22','26','Dec','5','9'][indexof([4,8,12,16,20,24,27.25,30.9,34.9,38.9,42.9,46.9,51.25,55.25,60.2,64.2,68.2], datum.value)]",
                 "labelFontSize": 8.5, "labelColor": "#4d4d4d", "tickSize": 3, "tickColor": "#9a9a9a", "domainColor": "#8a8a8a", "labelPadding": 1, "grid": false, "title": null, "labelOverlap": false, "labelFlush": false}},
  "y": {"field": "r", "type": "quantitative"}}},
{"data": {"name": "rsilabels"},
 "layer": [
  {"mark": {"type": "point", "shape": "M0.125,-0.69H4.25V0.69H0.125Z", "size": 256, "filled": true, "opacity": 1, "strokeWidth": 0},
   "encoding": {"x": {"datum": 69.64, "type": "quantitative"}, "y": {"field": "v", "type": "quantitative"},
    "fill": {"field": "k", "type": "nominal", "scale": {"domain": ["hi","cur","mid","lo"], "range": ["#83d3e3","#8b1f8d","#0a10f2","#6b6b6b"]}, "legend": null}}},
  {"mark": {"type": "text", "align": "left", "baseline": "middle", "dx": 3, "fontSize": 8},
   "encoding": {"x": {"datum": 69.64, "type": "quantitative"}, "y": {"field": "v", "type": "quantitative"}, "text": {"field": "v", "type": "quantitative", "format": ".4f"},
    "color": {"condition": {"test": "datum.k == 'hi'", "value": "#1d3b44"}, "value": "white"}}}
 ]},
{"data": {"values": [{"d": 5.51, "r": 85.7}, {"d": 6.26, "r": 85.7}, {"d": 7.02, "r": 85.7}]},
 "mark": {"type": "point", "shape": "square", "size": 80, "filled": true, "opacity": 1, "color": "#dddddd"},
 "encoding": {"x": {"field": "d", "type": "quantitative"}, "y": {"field": "r", "type": "quantitative"}}},
{"mark": {"type": "text", "align": "left", "baseline": "middle", "fontSize": 8, "color": "#555555", "text": "RSI (14)"},
 "encoding": {"x": {"datum": 2.29, "type": "quantitative"}, "y": {"datum": 85.7, "type": "quantitative"}}},
{"mark": {"type": "text", "align": "center", "baseline": "middle", "font": "DejaVu Sans", "fontSize": 8, "color": "#aaaaaa", "text": "▾"},
 "encoding": {"x": {"datum": 4.41, "type": "quantitative"}, "y": {"datum": 85.7, "type": "quantitative"}}},
{"mark": {"type": "text", "align": "left", "baseline": "middle", "fontSize": 8, "color": "#8e2a90", "text": "63.6482"},
 "encoding": {"x": {"datum": 7.68, "type": "quantitative"}, "y": {"datum": 85.7, "type": "quantitative"}}}
]
}
]
}
